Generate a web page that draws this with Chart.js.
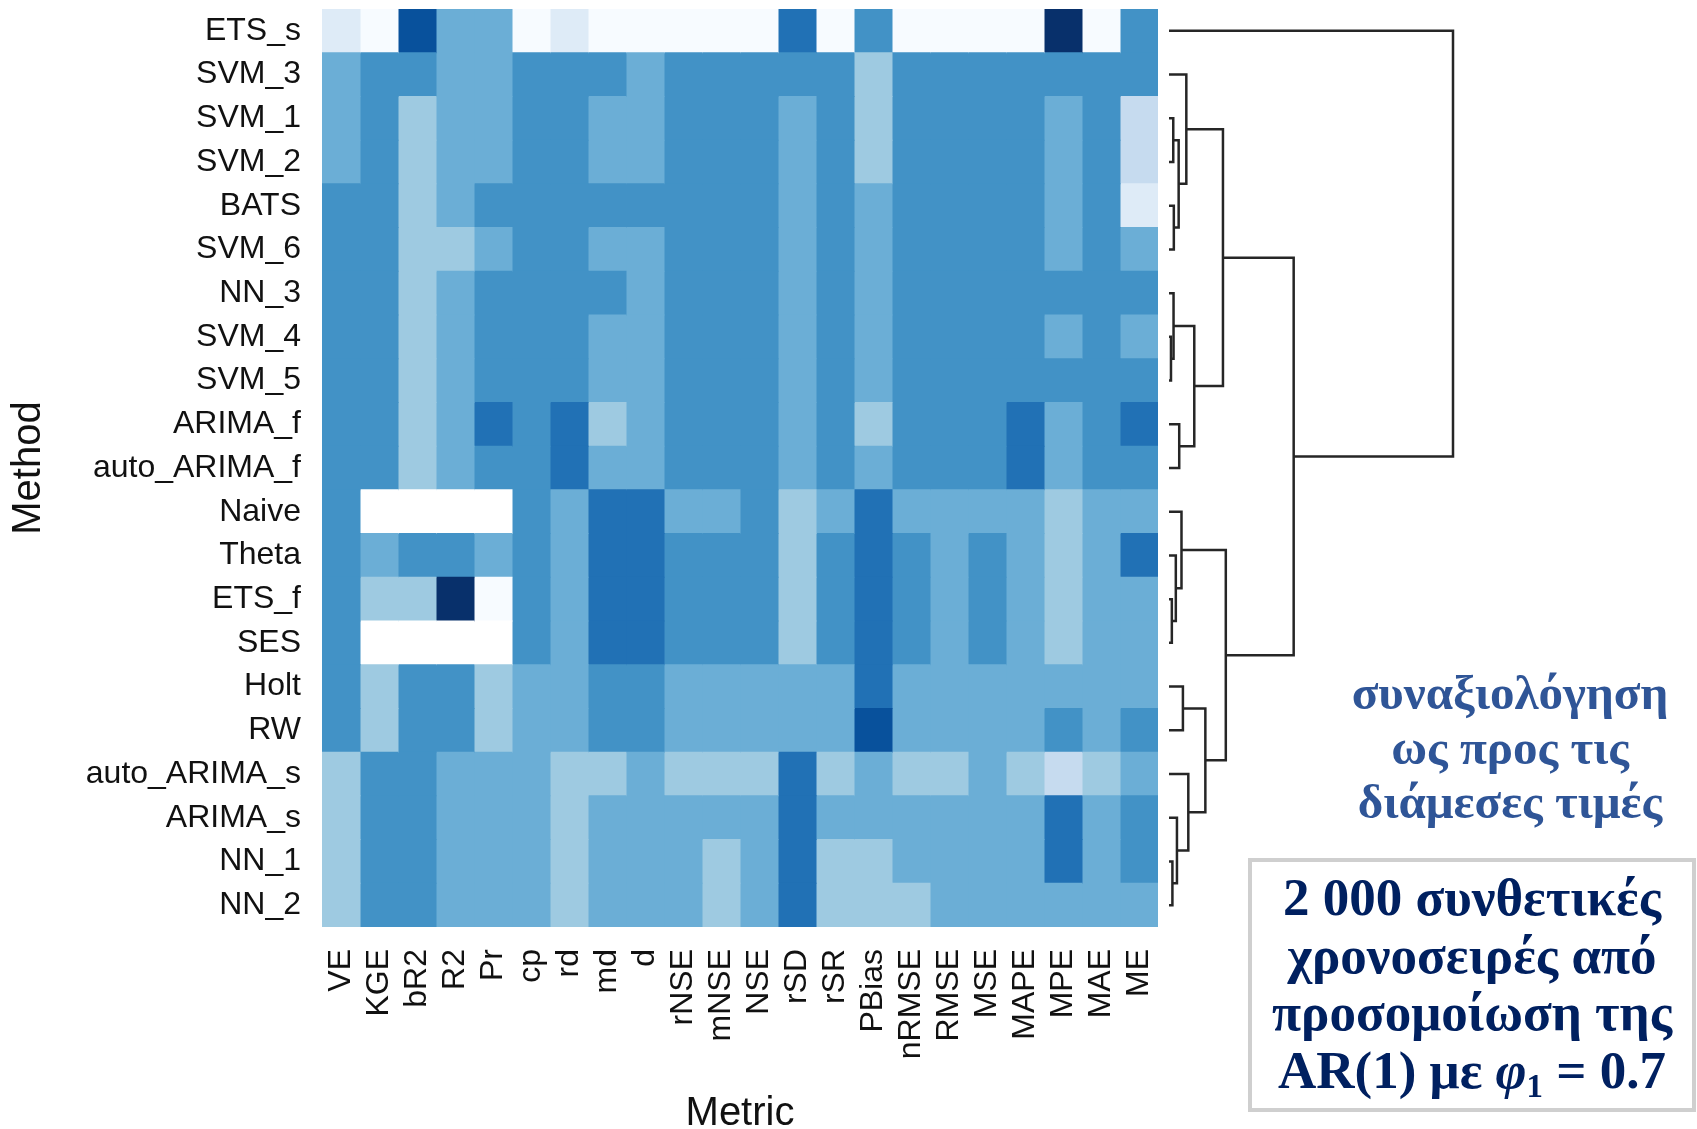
<!DOCTYPE html>
<html>
<head>
<meta charset="utf-8">
<title>Μέθοδοι πρόβλεψης × μετρικές</title>
<script src="https://cdn.jsdelivr.net/npm/chart.js@4.4.1/dist/chart.umd.min.js"></script>
<style>
  html, body { margin: 0; padding: 0; background: #ffffff; }
  #wrap { position: relative; width: 1697px; height: 1129px; overflow: hidden; }
  #heat { position: absolute; left: 0; top: 0; }
  .note {
    position: absolute;
    font-family: "Liberation Serif", "Times New Roman", serif;
    font-weight: bold;
    text-align: center;
    white-space: nowrap;
  }
  #scope { left: 1290px; top: 666px; width: 440px; color: #2F5597; font-size: 49px; line-height: 54.5px; }
  #setup {
    left: 1248px; top: 858px; width: 448px; height: 254px; box-sizing: border-box;
    border: 4px solid #cfcfcf; color: #002060; font-size: 53px; line-height: 57.5px; padding-top: 7px;
  }
  #setup i { font-style: italic; }
  #setup sub { font-size: 0.62em; vertical-align: -0.28em; line-height: 0; }
</style>
</head>
<body>
<div id="wrap">
  <canvas id="heat" width="1697" height="1129"></canvas>
  <div class="note" id="scope">συναξιολόγηση<br>ως προς τις<br>διάμεσες τιμές</div>
  <div class="note" id="setup">2 000 συνθετικές<br>χρονοσειρές από<br>προσομοίωση της<br>AR(1) με <i>φ</i><sub>1</sub> = 0.7</div>
</div>
<script>
// Rows (top to bottom, in dendrogram order) and columns of the heat map
const methods = ['ETS_s', 'SVM_3', 'SVM_1', 'SVM_2', 'BATS', 'SVM_6', 'NN_3', 'SVM_4', 'SVM_5',
  'ARIMA_f', 'auto_ARIMA_f', 'Naive', 'Theta', 'ETS_f', 'SES', 'Holt', 'RW',
  'auto_ARIMA_s', 'ARIMA_s', 'NN_1', 'NN_2'];
const metrics = ['VE', 'KGE', 'bR2', 'R2', 'Pr', 'cp', 'rd', 'md', 'd', 'rNSE', 'mNSE', 'NSE',
  'rSD', 'rSR', 'PBias', 'nRMSE', 'RMSE', 'MSE', 'MAPE', 'MPE', 'MAE', 'ME'];

// Colour class of each cell: 1 = lightest ... 9 = darkest, 0 = no value
const levels = [
  [2, 1, 8, 5, 5, 1, 2, 1, 1, 1, 1, 1, 7, 1, 6, 1, 1, 1, 1, 9, 1, 6], // ETS_s
  [5, 6, 6, 5, 5, 6, 6, 6, 5, 6, 6, 6, 6, 6, 4, 6, 6, 6, 6, 6, 6, 6], // SVM_3
  [5, 6, 4, 5, 5, 6, 6, 5, 5, 6, 6, 6, 5, 6, 4, 6, 6, 6, 6, 5, 6, 3], // SVM_1
  [5, 6, 4, 5, 5, 6, 6, 5, 5, 6, 6, 6, 5, 6, 4, 6, 6, 6, 6, 5, 6, 3], // SVM_2
  [6, 6, 4, 5, 6, 6, 6, 6, 6, 6, 6, 6, 5, 6, 5, 6, 6, 6, 6, 5, 6, 2], // BATS
  [6, 6, 4, 4, 5, 6, 6, 5, 5, 6, 6, 6, 5, 6, 5, 6, 6, 6, 6, 5, 6, 5], // SVM_6
  [6, 6, 4, 5, 6, 6, 6, 6, 5, 6, 6, 6, 5, 6, 5, 6, 6, 6, 6, 6, 6, 6], // NN_3
  [6, 6, 4, 5, 6, 6, 6, 5, 5, 6, 6, 6, 5, 6, 5, 6, 6, 6, 6, 5, 6, 5], // SVM_4
  [6, 6, 4, 5, 6, 6, 6, 5, 5, 6, 6, 6, 5, 6, 5, 6, 6, 6, 6, 6, 6, 6], // SVM_5
  [6, 6, 4, 5, 7, 6, 7, 4, 5, 6, 6, 6, 5, 6, 4, 6, 6, 6, 7, 5, 6, 7], // ARIMA_f
  [6, 6, 4, 5, 6, 6, 7, 5, 5, 6, 6, 6, 5, 6, 5, 6, 6, 6, 7, 5, 6, 6], // auto_ARIMA_f
  [6, 0, 0, 0, 0, 6, 5, 7, 7, 5, 5, 6, 4, 5, 7, 5, 5, 5, 5, 4, 5, 5], // Naive
  [6, 5, 6, 6, 5, 6, 5, 7, 7, 6, 6, 6, 4, 6, 7, 6, 5, 6, 5, 4, 5, 7], // Theta
  [6, 4, 4, 9, 1, 6, 5, 7, 7, 6, 6, 6, 4, 6, 7, 6, 5, 6, 5, 4, 5, 5], // ETS_f
  [6, 0, 0, 0, 0, 6, 5, 7, 7, 6, 6, 6, 4, 6, 7, 6, 5, 6, 5, 4, 5, 5], // SES
  [6, 4, 6, 6, 4, 5, 5, 6, 6, 5, 5, 5, 5, 5, 7, 5, 5, 5, 5, 5, 5, 5], // Holt
  [6, 4, 6, 6, 4, 5, 5, 6, 6, 5, 5, 5, 5, 5, 8, 5, 5, 5, 5, 6, 5, 6], // RW
  [4, 6, 6, 5, 5, 5, 4, 4, 5, 4, 4, 4, 7, 4, 5, 4, 4, 5, 4, 3, 4, 5], // auto_ARIMA_s
  [4, 6, 6, 5, 5, 5, 4, 5, 5, 5, 5, 5, 7, 5, 5, 5, 5, 5, 5, 7, 5, 6], // ARIMA_s
  [4, 6, 6, 5, 5, 5, 4, 5, 5, 5, 4, 5, 7, 4, 4, 5, 5, 5, 5, 7, 5, 6], // NN_1
  [4, 6, 6, 5, 5, 5, 4, 5, 5, 5, 4, 5, 7, 4, 4, 4, 5, 5, 5, 5, 5, 5]  // NN_2
];

// Sequential blue palette, index = colour class
const blues = ['#FFFFFF', '#F7FBFF', '#DEEBF7', '#C6DBEF', '#9ECAE1', '#6BAED6',
  '#4292C6', '#2171B5', '#08519C', '#08306B'];

// Hierarchical clustering of the methods: a leaf is a method name,
// a number refers to an earlier merge step (1-based)
const mergeLeft   = ['SVM_4', 'NN_1', 'ETS_f', 'SVM_1', 'BATS', 'NN_3', 'ARIMA_s', 'Theta', 4,
  'ARIMA_f', 'Naive', 'Holt', 'SVM_3', 'auto_ARIMA_s', 6, 12, 13, 11, 17, 'ETS_s'];
const mergeRight  = ['SVM_5', 'NN_2', 'SES', 'SVM_2', 'SVM_6', 1, 2, 3, 5,
  'auto_ARIMA_f', 8, 'RW', 9, 7, 10, 14, 15, 16, 18, 19];
const mergeHeight = [0.007, 0.012, 0.010, 0.015, 0.017, 0.016, 0.028, 0.024, 0.034,
  0.036, 0.044, 0.049, 0.061, 0.068, 0.089, 0.128, 0.190, 0.200, 0.439, 1.000];

// One stacked dataset per metric column; every cell spans one unit on the x scale
const datasets = metrics.map((metric, j) => ({
  label: metric,
  data: methods.map(() => 1),
  backgroundColor: methods.map((m, i) => blues[levels[i][j]]),
  borderWidth: 0,
  inflateAmount: 0.5,
  barPercentage: 1,
  categoryPercentage: 1
}));

// Draws the row dendrogram to the right of the plot area, aligned with the y scale
const dendrogramPlugin = {
  id: 'dendrogram',
  afterDraw(chart) {
    const { ctx, chartArea } = chart;
    const yScale = chart.scales.y;
    const x0 = chartArea.right + 11;
    const unit = 284;
    const nodes = [];
    const place = ref => (typeof ref === 'string')
      ? { x: x0, y: yScale.getPixelForValue(methods.indexOf(ref)) }
      : nodes[ref - 1];
    ctx.save();
    ctx.strokeStyle = '#262626';
    ctx.lineWidth = 2.5;
    ctx.lineCap = 'butt';
    ctx.lineJoin = 'miter';
    mergeHeight.forEach((h, k) => {
      const a = place(mergeLeft[k]);
      const b = place(mergeRight[k]);
      const x = x0 + h * unit;
      ctx.beginPath();
      ctx.moveTo(a.x, a.y);
      ctx.lineTo(x, a.y);
      ctx.lineTo(x, b.y);
      ctx.lineTo(b.x, b.y);
      ctx.stroke();
      nodes.push({ x: x, y: (a.y + b.y) / 2 });
    });
    ctx.restore();
  }
};

const sansFont = "'Liberation Sans', Arial, Helvetica, sans-serif";

new Chart(document.getElementById('heat'), {
  type: 'bar',
  data: { labels: methods, datasets: datasets },
  options: {
    indexAxis: 'y',
    responsive: false,
    animation: false,
    devicePixelRatio: 1,
    layout: { padding: { top: 9, right: 539, bottom: 0, left: 0 } },
    plugins: { legend: { display: false }, tooltip: { enabled: false } },
    scales: {
      x: {
        type: 'linear',
        stacked: true,
        min: 0,
        max: metrics.length,
        grid: { display: false },
        border: { display: false },
        afterBuildTicks: scale => { scale.ticks = metrics.map((m, j) => ({ value: j + 0.5 })); },
        afterFit: scale => { scale.height = 202; },
        ticks: {
          autoSkip: false,
          minRotation: 90,
          maxRotation: 90,
          padding: 14,
          color: '#111111',
          font: { family: sansFont, size: 32, lineHeight: 1 },
          callback: (value, index) => metrics[index]
        },
        title: {
          display: true,
          text: 'Metric',
          color: '#111111',
          padding: { top: 0, bottom: 0 },
          font: { family: sansFont, size: 40, lineHeight: 0.75 }
        }
      },
      y: {
        type: 'category',
        stacked: true,
        grid: { display: false, drawTicks: false },
        border: { display: false },
        afterFit: scale => {
          scale.width = 322;
          scale.paddingTop = 0;
          scale.paddingBottom = 0;
        },
        ticks: {
          autoSkip: false,
          padding: 21,
          color: '#111111',
          font: { family: sansFont, size: 32 }
        },
        title: {
          display: true,
          text: 'Method',
          color: '#111111',
          padding: { top: 5, bottom: 0 },
          font: { family: sansFont, size: 40, lineHeight: 1.2 }
        }
      }
    }
  },
  plugins: [dendrogramPlugin]
});
</script>
</body>
</html>
